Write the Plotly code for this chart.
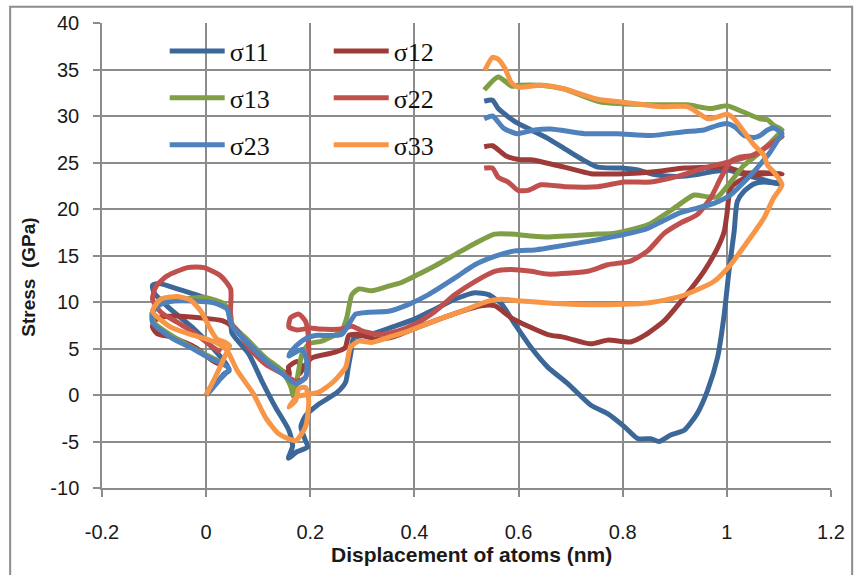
import plotly.graph_objects as go

# ---------------- data ----------------
x_ticks = [-0.2, 0, 0.2, 0.4, 0.6, 0.8, 1.0, 1.2]
x_tick_labels = ["-0.2", "0", "0.2", "0.4", "0.6", "0.8", "1", "1.2"]
y_ticks = [-10, -5, 0, 5, 10, 15, 20, 25, 30, 35, 40]
y_tick_labels = ["-10", "-5", "0", "5", "10", "15", "20", "25", "30", "35", "40"]

x11 = [0.0, 0.02, 0.035, 0.044, 0.04, 0.009, -0.023, -0.068, -0.1, -0.103, -0.09, -0.06, -0.02, 0.015, 0.04,
       0.047, 0.05, 0.082, 0.107, 0.133, 0.159, 0.166, 0.158, 0.174, 0.195, 0.19, 0.182, 0.19, 0.216, 0.252,
       0.268, 0.273, 0.278, 0.283, 0.315, 0.357, 0.398, 0.44, 0.482, 0.516, 0.542, 0.567, 0.593, 0.624, 0.656,
       0.695, 0.739, 0.771, 0.803, 0.829, 0.854, 0.87, 0.892, 0.918, 0.943, 0.963, 0.982, 0.995, 1.004, 1.014,
       1.02, 1.033, 1.052, 1.071, 1.09, 1.103, 1.08, 1.04, 1.0, 0.97, 0.943, 0.905, 0.861, 0.829, 0.797, 0.752,
       0.72, 0.688, 0.656, 0.624, 0.593, 0.561, 0.55, 0.534]
y11 = [0.0, 1.3, 2.3, 2.6, 3.2, 5.3, 7.1, 9.2, 11.0, 11.8, 12.0, 11.5, 10.8, 10.1, 9.4,
       7.8, 6.6, 4.4, 1.5, -1.3, -3.8, -5.5, -6.8, -6.1, -5.6, -4.8, -3.4, -2.3, -1.0, 0.3,
       1.4, 3.0, 4.5, 6.1, 6.5, 7.3, 8.1, 9.25, 10.4, 11.0, 10.8, 9.8, 7.6, 5.1, 3.0,
       1.2, -1.1, -2.0, -3.4, -4.7, -4.7, -5.0, -4.3, -3.8, -2.0, 0.5, 4.0, 8.7, 13.3, 17.6,
       20.8, 21.9, 22.7, 22.9, 22.8, 22.7, 23.0, 23.6, 24.2, 24.0, 23.7, 23.5, 23.7, 24.2, 24.4, 24.5,
       25.4, 26.5, 27.6, 28.5, 29.4, 30.8, 31.7, 31.6]

x12 = [0.031, 0.012, -0.02, -0.065, -0.094, -0.103, -0.1, -0.09, -0.058, -0.013, 0.031, 0.05, 0.082, 0.114,
       0.146, 0.16, 0.158, 0.174, 0.185, 0.18, 0.19, 0.203, 0.248, 0.267, 0.274, 0.293, 0.325, 0.356, 0.389,
       0.44, 0.49, 0.528, 0.554, 0.586, 0.624, 0.656, 0.688, 0.739, 0.771, 0.815, 0.842, 0.88, 0.918, 0.956,
       0.982, 0.995, 1.0, 1.007, 1.02, 1.045, 1.071, 1.106, 1.07, 1.033, 1.0, 0.969, 0.918, 0.861, 0.803,
       0.739, 0.688, 0.624, 0.603, 0.576, 0.55, 0.534]
y12 = [3.2, 3.7, 5.1, 6.2, 6.6, 7.3, 7.9, 8.3, 8.5, 8.3, 8.0, 7.4, 5.5, 3.7,
       2.6, 2.2, 3.0, 3.6, 3.0, 2.3, 3.2, 4.0, 4.6, 5.1, 6.4, 6.5, 6.0, 6.2, 6.9,
       8.0, 9.0, 9.6, 9.6, 8.3, 7.25, 6.5, 6.2, 5.5, 5.9, 5.7, 6.4, 8.0, 10.5, 13.3,
       15.8, 17.6, 19.4, 22.2, 22.9, 23.5, 23.8, 23.8, 23.9, 23.9, 24.5, 24.5, 24.4, 24.0, 23.8,
       23.8, 24.5, 25.3, 25.3, 25.7, 26.8, 26.7]

x13 = [0.03, -0.01, -0.055, -0.1, -0.103, -0.09, -0.068, -0.03, -0.004, 0.034, 0.047, 0.05, 0.082, 0.114,
       0.146, 0.162, 0.168, 0.175, 0.184, 0.197, 0.222, 0.26, 0.27, 0.28, 0.293, 0.318, 0.35, 0.375, 0.401,
       0.44, 0.478, 0.516, 0.554, 0.586, 0.624, 0.656, 0.752, 0.785, 0.848, 0.899, 0.937, 0.963, 0.982, 1.007,
       1.033, 1.064, 1.097, 1.106, 1.09, 1.078, 1.064, 1.033, 1.0, 0.969, 0.924, 0.867, 0.758, 0.688, 0.643,
       0.599, 0.587, 0.561, 0.534]
y13 = [3.5, 4.6, 6.0, 7.8, 8.8, 9.7, 10.1, 10.4, 10.5, 9.8, 8.7, 7.6, 5.8, 4.0,
       2.6, 1.0, -0.2, 1.8, 4.4, 5.5, 5.8, 6.9, 8.3, 10.8, 11.4, 11.2, 11.7, 12.1, 12.8,
       13.9, 15.1, 16.3, 17.3, 17.3, 17.1, 17.0, 17.3, 17.4, 18.3, 20.1, 21.5, 21.3, 21.3, 22.9,
       24.7, 26.1, 27.9, 28.5, 29.0, 29.6, 29.7, 30.4, 31.1, 30.8, 31.2, 31.2, 31.5, 32.9, 33.3,
       33.3, 33.2, 34.2, 32.8]

x22 = [0.028, 0.009, -0.023, -0.055, -0.087, -0.103, -0.096, -0.075, -0.036, -0.004, 0.028, 0.047, 0.047,
       0.06, 0.082, 0.114, 0.146, 0.172, 0.19, 0.197, 0.195, 0.19, 0.178, 0.162, 0.159, 0.175, 0.2, 0.216,
       0.26, 0.28, 0.299, 0.331, 0.369, 0.401, 0.44, 0.478, 0.516, 0.554, 0.586, 0.624, 0.656, 0.733, 0.771,
       0.815, 0.848, 0.88, 0.911, 0.943, 0.969, 0.988, 1.007, 1.026, 1.052, 1.071, 1.106, 1.08, 1.05, 1.0,
       0.956, 0.905, 0.854, 0.803, 0.752, 0.688, 0.643, 0.618, 0.599, 0.58, 0.561, 0.55, 0.534]
y22 = [4.6, 5.3, 6.7, 7.8, 8.9, 10.3, 11.7, 12.8, 13.7, 13.7, 12.8, 11.4, 7.8,
       6.9, 5.1, 3.3, 2.3, 1.5, 1.8, 4.0, 7.0, 8.0, 8.7, 8.3, 7.3, 7.0, 7.2, 7.1,
       7.1, 7.4, 6.9, 6.5, 6.9, 7.6, 9.0, 10.8, 12.2, 13.3, 13.5, 13.3, 13.0, 13.3, 14.0,
       14.4, 15.5, 17.4, 18.5, 19.4, 21.2, 23.3, 25.1, 25.6, 25.8, 26.5, 27.8, 26.8, 25.8, 25.0,
       24.4, 23.5, 22.9, 22.9, 22.4, 22.4, 22.6, 22.0, 22.0, 22.9, 23.4, 24.4, 24.4]

x23 = [0.006, 0.025, 0.044, 0.034, 0.009, -0.023, -0.068, -0.103, -0.103, -0.087, -0.061, -0.023, 0.015,
       0.04, 0.047, 0.054, 0.082, 0.114, 0.146, 0.172, 0.191, 0.193, 0.184, 0.159, 0.165, 0.184, 0.197, 0.21,
       0.26, 0.274, 0.287, 0.312, 0.35, 0.389, 0.427, 0.478, 0.516, 0.554, 0.593, 0.631, 0.656, 0.752, 0.815,
       0.848, 0.88, 0.911, 0.943, 0.975, 1.007, 1.033, 1.058, 1.083, 1.1, 1.106, 1.09, 1.078, 1.064, 1.052,
       1.033, 1.016, 1.0, 0.982, 0.956, 0.918, 0.854, 0.79, 0.727, 0.662, 0.631, 0.597, 0.571, 0.55, 0.534]
y23 = [0.3, 1.6, 2.8, 3.3, 3.9, 4.9, 6.2, 7.8, 9.0, 9.75, 10.1, 10.1, 9.9,
       9.25, 7.8, 7.1, 5.5, 3.7, 2.3, 1.2, 1.9, 3.7, 4.9, 4.2, 4.8, 5.8, 6.2, 6.4,
       6.5, 7.6, 8.7, 8.9, 9.0, 9.75, 10.8, 12.6, 14.0, 14.9, 15.5, 15.6, 15.8, 16.7, 17.4,
       17.9, 18.8, 19.6, 20.1, 20.6, 21.5, 22.9, 24.4, 26.1, 27.6, 28.1, 28.7, 28.5, 27.9, 27.7,
       27.9, 28.8, 29.2, 29.0, 28.5, 28.3, 27.9, 28.1, 28.1, 28.6, 28.5, 28.1, 28.7, 30.0, 29.7]

x33 = [0.0, 0.02, 0.037, 0.045, 0.035, 0.021, 0.009, -0.01, -0.03, -0.055, -0.087, -0.103, -0.068, -0.023,
       0.021, 0.04, 0.06, 0.09, 0.115, 0.14, 0.172, 0.191, 0.197, 0.191, 0.178, 0.172, 0.159, 0.175, 0.216,
       0.244, 0.268, 0.277, 0.293, 0.318, 0.35, 0.389, 0.44, 0.49, 0.542, 0.567, 0.605, 0.656, 0.752, 0.848,
       0.911, 0.975, 1.007, 1.045, 1.071, 1.09, 1.106, 1.09, 1.078, 1.071, 1.052, 1.033, 1.014, 1.0, 0.982,
       0.963, 0.943, 0.924, 0.874, 0.829, 0.797, 0.752, 0.688, 0.643, 0.599, 0.586, 0.574, 0.561, 0.55, 0.535]
y33 = [0.0, 2.2, 4.3, 5.3, 5.7, 6.0, 7.0, 9.0, 10.2, 10.6, 10.3, 9.0, 7.3, 6.4,
       5.6, 4.8, 2.6, 0.2, -2.5, -4.2, -4.9, -3.4, -0.6, 0.8, 0.7, -0.6, -1.3, -0.2, 0.3,
       1.4, 3.0, 5.1, 5.8, 5.65, 6.2, 6.9, 8.0, 9.0, 10.1, 10.3, 10.1, 9.9, 9.7, 9.9,
       10.6, 12.2, 14.0, 16.9, 19.0, 21.2, 22.6, 24.0, 24.7, 25.8, 26.9, 28.3, 29.7, 30.2, 29.9,
       29.7, 30.4, 31.0, 31.0, 31.3, 31.5, 31.8, 32.9, 33.3, 33.1, 33.6, 35.1, 36.1, 36.3, 34.9]

series_names = ["σ11", "σ12", "σ13", "σ22", "σ23", "σ33"]
series_x = [x11, x12, x13, x22, x23, x33]
series_y = [y11, y12, y13, y22, y23, y33]
series_colors = ["#3C6899", "#9E3B38", "#7F9E45", "#C0504D", "#4F81BD", "#F79646"]
series_legend = ["legend", "legend2", "legend", "legend2", "legend", "legend2"]

# ---------------- figure ----------------
fig = go.Figure()
for name, xs, ys, col, leg in zip(series_names, series_x, series_y, series_colors, series_legend):
    fig.add_trace(go.Scatter(
        x=xs, y=ys, mode="lines", name=name, legend=leg, legendgroup=name,
        line=dict(color=col, width=5, shape="spline", smoothing=0.6),
        hoverinfo="skip",
    ))

grid = "#8C8C8C"
tickfont = dict(family="Liberation Sans, Arial, sans-serif", size=20, color="#1a1a1a")
legfont = dict(family="Liberation Serif, Times New Roman, serif", size=26, color="#111111")

fig.update_layout(
    width=857, height=575,
    margin=dict(l=102, r=23, t=20, b=87),
    paper_bgcolor="white", plot_bgcolor="white",
    showlegend=True,
    legend=dict(x=0.086, y=0.99, xanchor="left", yanchor="top", font=legfont,
                bgcolor="rgba(0,0,0,0)", traceorder="grouped", tracegroupgap=10, itemwidth=55),
    legend2=dict(x=0.311, y=0.99, xanchor="left", yanchor="top", font=legfont,
                 bgcolor="rgba(0,0,0,0)", traceorder="grouped", tracegroupgap=10, itemwidth=55),
    xaxis=dict(range=[-0.2, 1.2], tickvals=x_ticks, ticktext=x_tick_labels,
               showgrid=True, gridcolor=grid, gridwidth=1.5,
               showline=True, linecolor=grid, linewidth=1.5, mirror=False,
               ticks="outside", ticklen=7, tickcolor=grid, tickwidth=1.5,
               ticklabelstandoff=18, tickfont=tickfont, zeroline=False),
    yaxis=dict(range=[-10, 40], tickvals=y_ticks, ticktext=y_tick_labels,
               showgrid=True, gridcolor=grid, gridwidth=1.5,
               showline=True, linecolor=grid, linewidth=1.5,
               ticks="outside", ticklen=7, tickcolor=grid, tickwidth=1.5,
               ticklabelstandoff=10, tickfont=tickfont, zeroline=False),
    shapes=[dict(type="rect", xref="paper", yref="paper",
                 x0=-0.126, x1=1.029, y0=-0.19, y1=1.035,
                 line=dict(color="#8C8C8C", width=2), fillcolor="rgba(0,0,0,0)", layer="below")],
    annotations=[
        dict(text="<b>Displacement of atoms (nm)</b>", xref="paper", yref="paper",
             x=0.507, y=-0.143, xanchor="center", yanchor="middle", showarrow=False,
             font=dict(family="Liberation Sans, Arial, sans-serif", size=21, color="#1a1a1a")),
        dict(text="<b>Stress&nbsp; (GPa)</b>", xref="paper", yref="paper",
             x=-0.101, y=0.453, xanchor="center", yanchor="middle", showarrow=False, textangle=-90,
             font=dict(family="Liberation Sans, Arial, sans-serif", size=19, color="#1a1a1a")),
    ],
)

fig.write_html("out.html")
